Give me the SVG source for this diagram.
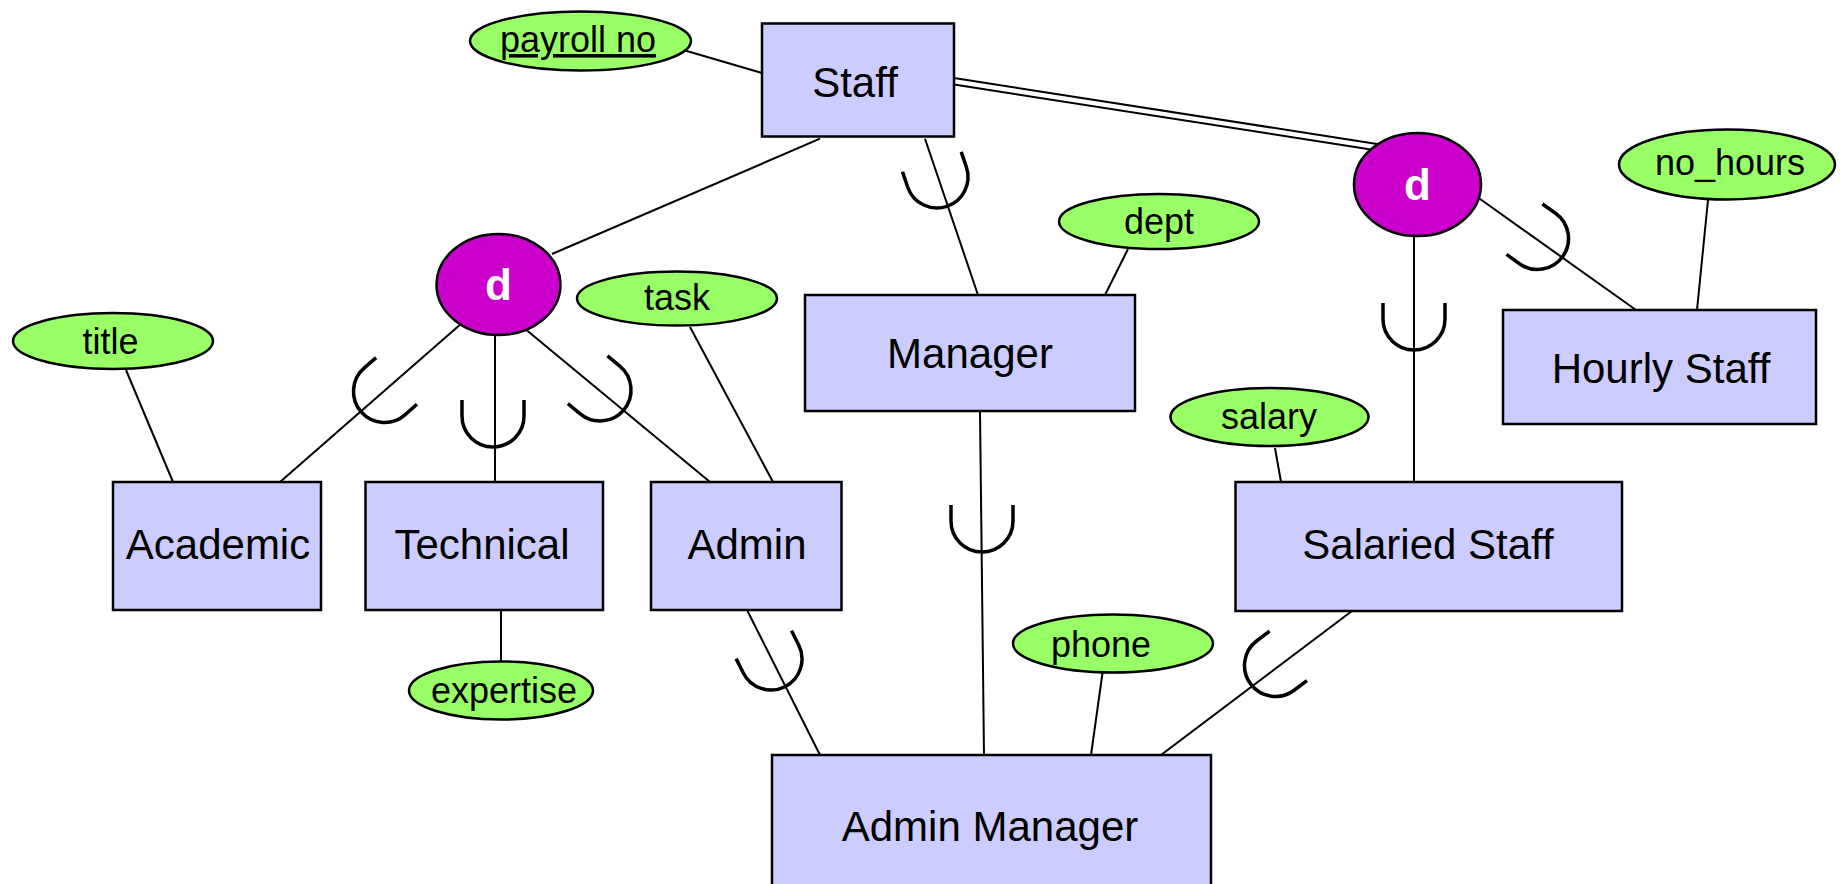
<svg xmlns="http://www.w3.org/2000/svg" xmlns:xlink="http://www.w3.org/1999/xlink" width="1843" height="884" viewBox="0 0 1843 884">
<style>
.ent{fill:#CCCCFF;stroke:#000;stroke-width:2.5}
.att{fill:#99FF66;stroke:#000;stroke-width:2.5}
.dis{fill:#CC00CC;stroke:#000;stroke-width:2.5}
.ln{stroke:#000;stroke-width:2;fill:none}
.cup{stroke:#000;stroke-width:3.5;fill:none}
.et{font-family:"Liberation Sans",Arial,sans-serif;font-size:42px;fill:#000;text-anchor:middle}
.at{font-family:"Liberation Sans",Arial,sans-serif;font-size:36px;fill:#000;text-anchor:middle}
.dt{font-family:"Liberation Sans",Arial,sans-serif;font-size:44px;font-weight:bold;fill:#fff;text-anchor:middle}
</style>
<defs>
<path id="u" d="M -31 -16 L -31 0 A 31 31 0 0 0 31 0 L 31 -16"/>
</defs>
<rect width="1843" height="884" fill="#fff"/>
<g id="connectors">
<line class="ln" x1="685" y1="50.5" x2="762" y2="73"/>
<line class="ln" x1="820" y1="138.7" x2="552" y2="254"/>
<line class="ln" x1="925" y1="138.7" x2="978" y2="295"/>
<line class="ln" x1="1128" y1="249" x2="1105" y2="295"/>
<line class="ln" x1="954" y1="78" x2="1377" y2="144"/>
<line class="ln" x1="954" y1="84.5" x2="1374" y2="150"/>
<line class="ln" x1="1414" y1="236" x2="1414" y2="482"/>
<line class="ln" x1="1478" y1="197.5" x2="1636" y2="310"/>
<line class="ln" x1="1708" y1="200" x2="1697" y2="310"/>
<line class="ln" x1="1275" y1="448" x2="1281" y2="482"/>
<line class="ln" x1="462" y1="323" x2="280" y2="482"/>
<line class="ln" x1="126" y1="370" x2="173" y2="482"/>
<line class="ln" x1="495" y1="334" x2="495" y2="486"/>
<line class="ln" x1="524" y1="328" x2="710" y2="482"/>
<line class="ln" x1="690" y1="327" x2="773" y2="482"/>
<line class="ln" x1="501" y1="610" x2="501" y2="662"/>
<line class="ln" x1="747.5" y1="611" x2="820" y2="755"/>
<line class="ln" x1="980" y1="411" x2="984" y2="755"/>
<line class="ln" x1="1102.5" y1="673" x2="1091" y2="755"/>
<line class="ln" x1="1352" y1="611" x2="1161" y2="755"/>
<use xlink:href="#u" class="cup" transform="translate(937,177) rotate(-18.7)"/>
<use xlink:href="#u" class="cup" transform="translate(384.5,391.5) rotate(48.8)"/>
<use xlink:href="#u" class="cup" transform="translate(493,416)"/>
<use xlink:href="#u" class="cup" transform="translate(600,390) rotate(-50.3)"/>
<use xlink:href="#u" class="cup" transform="translate(1414,319)"/>
<use xlink:href="#u" class="cup" transform="translate(1537.5,238.5) rotate(-54.5)"/>
<use xlink:href="#u" class="cup" transform="translate(982,521)"/>
<use xlink:href="#u" class="cup" transform="translate(771,659) rotate(-26.7)"/>
<use xlink:href="#u" class="cup" transform="translate(1275.5,665.5) rotate(53)"/>
</g>
<g id="staff"><rect class="ent" x="762" y="23.5" width="192" height="113"/><text class="et" x="855" y="97">Staff</text></g>
<g id="manager"><rect class="ent" x="805" y="295" width="330" height="116"/><text class="et" x="970" y="368">Manager</text></g>
<g id="hourly-staff"><rect class="ent" x="1503" y="310" width="313" height="114"/><text class="et" x="1661" y="383">Hourly Staff</text></g>
<g id="salaried-staff"><rect class="ent" x="1235.5" y="482" width="386.5" height="129"/><text class="et" x="1428" y="559">Salaried Staff</text></g>
<g id="academic"><rect class="ent" x="113" y="482" width="208" height="128"/><text class="et" x="218" y="559">Academic</text></g>
<g id="technical"><rect class="ent" x="365.5" y="482" width="237.5" height="128"/><text class="et" x="482" y="559">Technical</text></g>
<g id="admin"><rect class="ent" x="651" y="482" width="190.5" height="128"/><text class="et" x="747" y="559">Admin</text></g>
<g id="admin-manager"><rect class="ent" x="772" y="755" width="439" height="140"/><text class="et" x="990" y="841">Admin Manager</text></g>
<g id="d-left"><ellipse class="dis" cx="498.5" cy="284.5" rx="62" ry="50.5"/><text class="dt" x="498.5" y="300">d</text></g>
<g id="d-right"><ellipse class="dis" cx="1417.5" cy="184.5" rx="63.5" ry="51.5"/><text class="dt" x="1417.5" y="200">d</text></g>
<g id="payroll-no"><ellipse class="att" cx="580.5" cy="41" rx="110.5" ry="29.5"/><text class="at" x="578" y="52" text-decoration="underline">payroll no</text></g>
<g id="dept"><ellipse class="att" cx="1159" cy="221.5" rx="100" ry="27.5"/><text class="at" x="1159" y="234">dept</text></g>
<g id="no-hours"><ellipse class="att" cx="1727" cy="164.5" rx="108" ry="35"/><text class="at" x="1730" y="175">no_hours</text></g>
<g id="title"><ellipse class="att" cx="113" cy="341" rx="100" ry="28"/><text class="at" x="110.5" y="354">title</text></g>
<g id="task"><ellipse class="att" cx="677" cy="298.5" rx="100" ry="27"/><text class="at" x="677" y="310">task</text></g>
<g id="salary"><ellipse class="att" cx="1269.5" cy="417" rx="99" ry="29"/><text class="at" x="1269" y="429">salary</text></g>
<g id="expertise"><ellipse class="att" cx="501" cy="690.5" rx="92" ry="29"/><text class="at" x="504" y="703">expertise</text></g>
<g id="phone"><ellipse class="att" cx="1113" cy="643.5" rx="100" ry="29"/><text class="at" x="1101" y="657">phone</text></g>
</svg>
